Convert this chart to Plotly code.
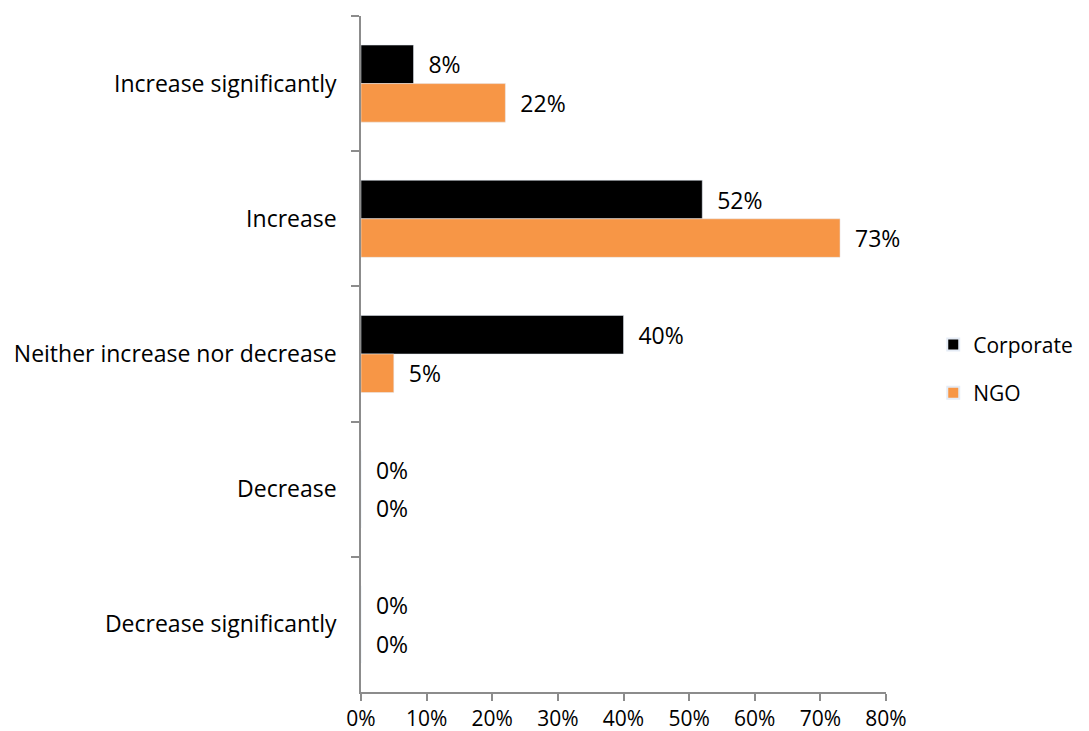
import plotly.graph_objects as go

categories = ["Increase significantly", "Increase", "Neither increase nor decrease",
              "Decrease", "Decrease significantly"]
corporate = [8, 52, 40, 0, 0]
ngo = [22, 73, 5, 0, 0]
x_ticks = [0, 10, 20, 30, 40, 50, 60, 70, 80]
x_tick_labels = [f"{t}%" for t in x_ticks]

FONT = "'Open Sans', Lato, sans-serif"
FS = 23
AXIS = "#8c8c8c"
PAD = "\u00a0\u00a0"

fig = go.Figure()
fig.add_trace(go.Bar(
    name="Corporate", y=categories, x=corporate, orientation="h",
    marker=dict(color="#000000"), legendgroup="corp",
    text=[f"{PAD}{v}%" for v in corporate], textposition="outside",
    textfont=dict(color="#000000", size=FS, family=FONT), cliponaxis=False,
))
fig.add_trace(go.Bar(
    name="NGO", y=categories, x=ngo, orientation="h",
    marker=dict(color="#F79646"), legendgroup="ngo",
    text=[f"{PAD}{v}%" for v in ngo], textposition="outside",
    textfont=dict(color="#000000", size=FS, family=FONT), cliponaxis=False,
))

fig.update_layout(
    width=1089, height=731,
    margin=dict(l=353, r=211, t=8, b=47, autoexpand=False),
    paper_bgcolor="white", plot_bgcolor="white",
    barmode="group", bargap=0.43, bargroupgap=0,
    font=dict(family=FONT, size=FS, color="#000000"),
    showlegend=True,
    legend=dict(x=1.09, y=0.478, xanchor="left", yanchor="middle",
                font=dict(size=21, family=FONT), tracegroupgap=18,
                itemsizing="constant", itemwidth=30),
)
fig.update_xaxes(
    range=[0, 80], tickvals=x_ticks, ticktext=x_tick_labels,
    showgrid=False, zeroline=False, showline=True, linecolor=AXIS, linewidth=1.5,
    ticks="outside", ticklen=7, tickcolor=AXIS, tickwidth=1.5,
    tickfont=dict(size=21, family=FONT), fixedrange=True,
)
fig.update_yaxes(
    autorange="reversed", type="category",
    showgrid=False, zeroline=False, showline=True, linecolor=AXIS, linewidth=1.5,
    ticks="outside", tickson="boundaries", ticklen=8, tickcolor=AXIS, tickwidth=1.5,
    tickfont=dict(size=FS, family=FONT), ticklabelstandoff=18,
)

fig.write_html("out.html")
